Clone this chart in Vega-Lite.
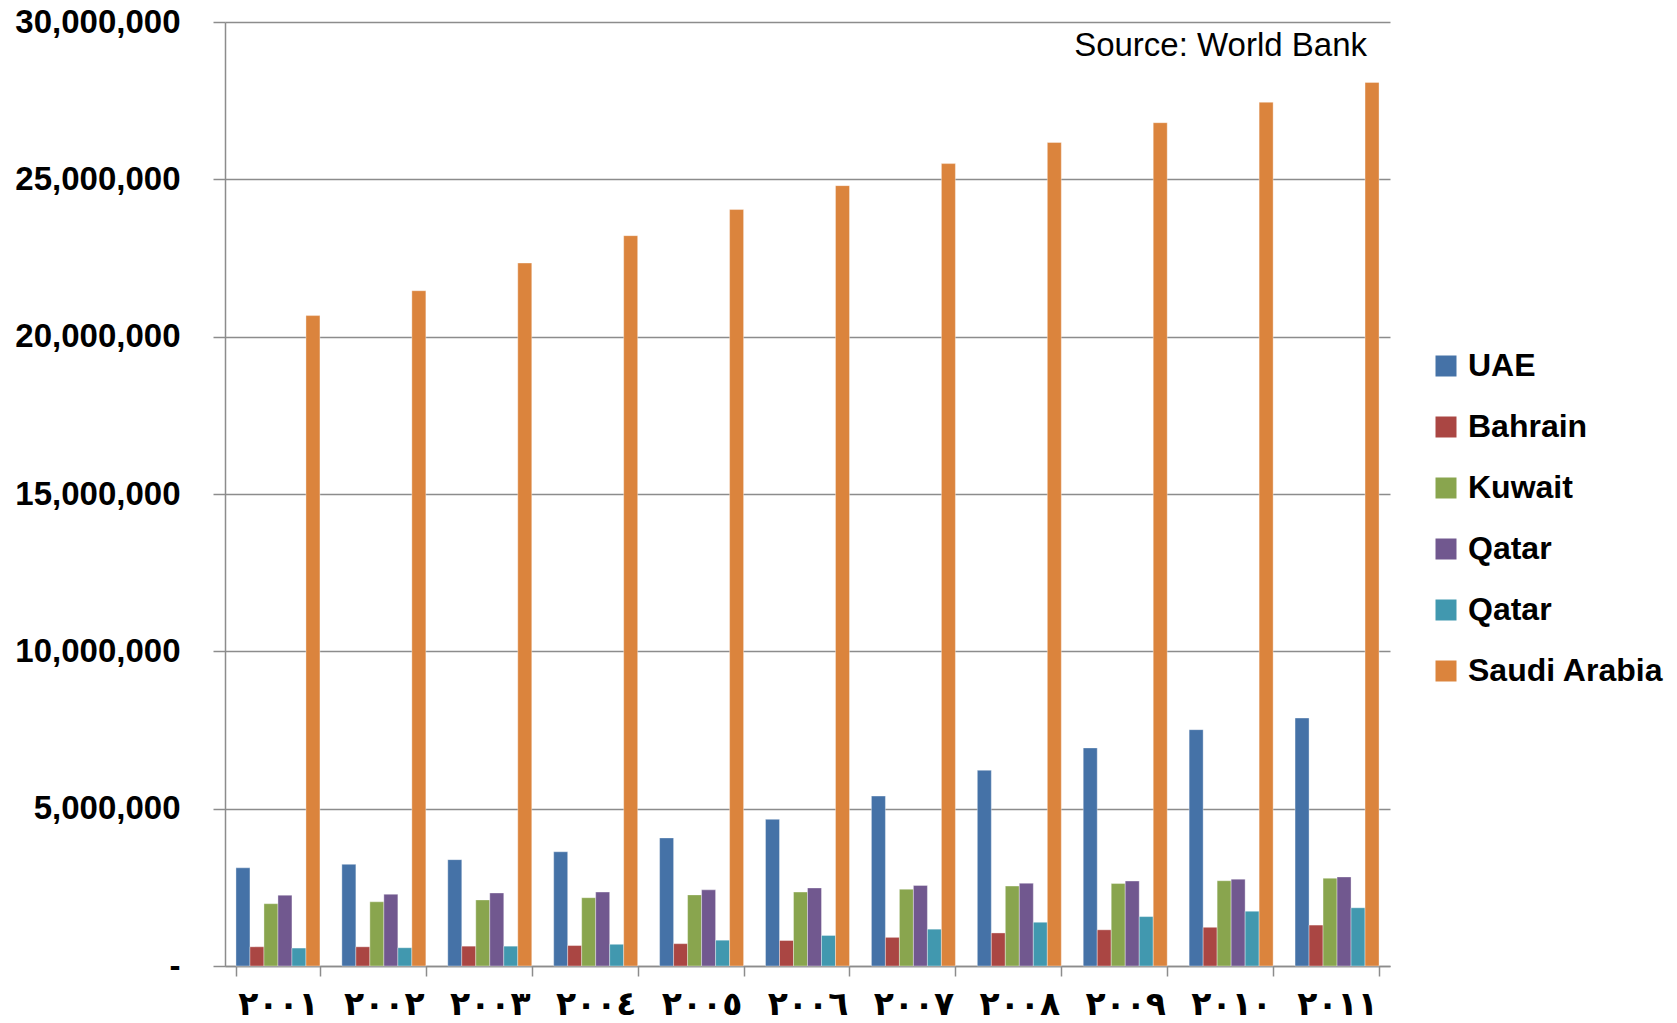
{
  "$schema": "https://vega.github.io/schema/vega-lite/v6.json",
  "autosize": {"type": "none"},
  "padding": {"left": 225, "top": 22, "right": 287, "bottom": 57},
  "width": 1165,
  "height": 944,
  "background": "#ffffff",
  "title": {
    "text": "Source: World Bank",
    "anchor": "end",
    "frame": "group",
    "orient": "top",
    "baseline": "alphabetic",
    "offset": -83,
    "dx": -23,
    "font": "Liberation Sans",
    "fontSize": 33,
    "fontWeight": "normal",
    "color": "#000000"
  },
  "data": {
    "values": [
      {"year": "٢٠٠١", "series": "UAE", "value": 3120000},
      {"year": "٢٠٠١", "series": "Bahrain", "value": 610000},
      {"year": "٢٠٠١", "series": "Kuwait", "value": 1980000},
      {"year": "٢٠٠١", "series": "Qatar", "value": 2250000},
      {"year": "٢٠٠١", "series": "Qatar2", "value": 570000},
      {"year": "٢٠٠١", "series": "Saudi Arabia", "value": 20670000},
      {"year": "٢٠٠٢", "series": "UAE", "value": 3230000},
      {"year": "٢٠٠٢", "series": "Bahrain", "value": 610000},
      {"year": "٢٠٠٢", "series": "Kuwait", "value": 2040000},
      {"year": "٢٠٠٢", "series": "Qatar", "value": 2280000},
      {"year": "٢٠٠٢", "series": "Qatar2", "value": 580000},
      {"year": "٢٠٠٢", "series": "Saudi Arabia", "value": 21460000},
      {"year": "٢٠٠٣", "series": "UAE", "value": 3380000},
      {"year": "٢٠٠٣", "series": "Bahrain", "value": 630000},
      {"year": "٢٠٠٣", "series": "Kuwait", "value": 2100000},
      {"year": "٢٠٠٣", "series": "Qatar", "value": 2320000},
      {"year": "٢٠٠٣", "series": "Qatar2", "value": 630000},
      {"year": "٢٠٠٣", "series": "Saudi Arabia", "value": 22340000},
      {"year": "٢٠٠٤", "series": "UAE", "value": 3630000},
      {"year": "٢٠٠٤", "series": "Bahrain", "value": 650000},
      {"year": "٢٠٠٤", "series": "Kuwait", "value": 2170000},
      {"year": "٢٠٠٤", "series": "Qatar", "value": 2350000},
      {"year": "٢٠٠٤", "series": "Qatar2", "value": 690000},
      {"year": "٢٠٠٤", "series": "Saudi Arabia", "value": 23210000},
      {"year": "٢٠٠٥", "series": "UAE", "value": 4070000},
      {"year": "٢٠٠٥", "series": "Bahrain", "value": 710000},
      {"year": "٢٠٠٥", "series": "Kuwait", "value": 2260000},
      {"year": "٢٠٠٥", "series": "Qatar", "value": 2420000},
      {"year": "٢٠٠٥", "series": "Qatar2", "value": 820000},
      {"year": "٢٠٠٥", "series": "Saudi Arabia", "value": 24040000},
      {"year": "٢٠٠٦", "series": "UAE", "value": 4660000},
      {"year": "٢٠٠٦", "series": "Bahrain", "value": 810000},
      {"year": "٢٠٠٦", "series": "Kuwait", "value": 2350000},
      {"year": "٢٠٠٦", "series": "Qatar", "value": 2480000},
      {"year": "٢٠٠٦", "series": "Qatar2", "value": 970000},
      {"year": "٢٠٠٦", "series": "Saudi Arabia", "value": 24800000},
      {"year": "٢٠٠٧", "series": "UAE", "value": 5400000},
      {"year": "٢٠٠٧", "series": "Bahrain", "value": 910000},
      {"year": "٢٠٠٧", "series": "Kuwait", "value": 2440000},
      {"year": "٢٠٠٧", "series": "Qatar", "value": 2560000},
      {"year": "٢٠٠٧", "series": "Qatar2", "value": 1170000},
      {"year": "٢٠٠٧", "series": "Saudi Arabia", "value": 25500000},
      {"year": "٢٠٠٨", "series": "UAE", "value": 6220000},
      {"year": "٢٠٠٨", "series": "Bahrain", "value": 1050000},
      {"year": "٢٠٠٨", "series": "Kuwait", "value": 2540000},
      {"year": "٢٠٠٨", "series": "Qatar", "value": 2630000},
      {"year": "٢٠٠٨", "series": "Qatar2", "value": 1390000},
      {"year": "٢٠٠٨", "series": "Saudi Arabia", "value": 26170000},
      {"year": "٢٠٠٩", "series": "UAE", "value": 6930000},
      {"year": "٢٠٠٩", "series": "Bahrain", "value": 1150000},
      {"year": "٢٠٠٩", "series": "Kuwait", "value": 2620000},
      {"year": "٢٠٠٩", "series": "Qatar", "value": 2700000},
      {"year": "٢٠٠٩", "series": "Qatar2", "value": 1570000},
      {"year": "٢٠٠٩", "series": "Saudi Arabia", "value": 26800000},
      {"year": "٢٠١٠", "series": "UAE", "value": 7510000},
      {"year": "٢٠١٠", "series": "Bahrain", "value": 1230000},
      {"year": "٢٠١٠", "series": "Kuwait", "value": 2710000},
      {"year": "٢٠١٠", "series": "Qatar", "value": 2760000},
      {"year": "٢٠١٠", "series": "Qatar2", "value": 1740000},
      {"year": "٢٠١٠", "series": "Saudi Arabia", "value": 27450000},
      {"year": "٢٠١١", "series": "UAE", "value": 7880000},
      {"year": "٢٠١١", "series": "Bahrain", "value": 1300000},
      {"year": "٢٠١١", "series": "Kuwait", "value": 2790000},
      {"year": "٢٠١١", "series": "Qatar", "value": 2830000},
      {"year": "٢٠١١", "series": "Qatar2", "value": 1850000},
      {"year": "٢٠١١", "series": "Saudi Arabia", "value": 28080000}
    ]
  },
  "mark": {"type": "bar", "stroke": "#ffffff", "strokeWidth": 0.6, "strokeOpacity": 0.6},
  "encoding": {
    "x": {
      "field": "year",
      "type": "nominal",
      "sort": null,
      "scale": {"paddingInner": 0.207, "paddingOuter": 0.1035},
      "axis": {
        "title": null,
        "labelAngle": 0,
        "labelExpr": "datum.value ? datum.value : ''",
        "labelAlign": "center",
        "labelFont": "DejaVu Sans",
        "labelFontSize": 33,
        "labelFontWeight": "bold",
        "labelColor": "#000000",
        "labelPadding": 12,
        "labelBaseline": "top",
        "labelOverlap": false,
        "tickBand": "extent",
        "tickSize": 10,
        "tickColor": "#8c8c8c",
        "tickWidth": 1.5,
        "domainColor": "#8c8c8c",
        "domainWidth": 1.5,
        "grid": false
      }
    },
    "xOffset": {
      "field": "series",
      "type": "nominal",
      "sort": ["UAE", "Bahrain", "Kuwait", "Qatar", "Qatar2", "Saudi Arabia"],
      "scale": {"paddingInner": 0, "paddingOuter": 0}
    },
    "y": {
      "field": "value",
      "type": "quantitative",
      "scale": {"domain": [0, 30000000], "nice": false},
      "axis": {
        "title": null,
        "values": [0, 5000000, 10000000, 15000000, 20000000, 25000000, 30000000],
        "labelExpr": "datum.value == 0 ? '-' : format(datum.value, ',')",
        "labelFont": "Liberation Sans",
        "labelFontSize": 33,
        "labelFontWeight": "bold",
        "labelColor": "#000000",
        "labelPadding": 33,
        "tickSize": 12,
        "tickColor": "#8c8c8c",
        "tickWidth": 1.5,
        "domainColor": "#8c8c8c",
        "domainWidth": 1.5,
        "grid": true,
        "gridColor": "#8c8c8c",
        "gridWidth": 1.5
      }
    },
    "color": {
      "field": "series",
      "type": "nominal",
      "sort": ["UAE", "Bahrain", "Kuwait", "Qatar", "Qatar2", "Saudi Arabia"],
      "scale": {
        "domain": ["UAE", "Bahrain", "Kuwait", "Qatar", "Qatar2", "Saudi Arabia"],
        "range": ["#4572A7", "#AA4643", "#89A54E", "#71588F", "#4198AF", "#DB843D"]
      },
      "legend": {
        "title": null,
        "orient": "none",
        "legendX": 1205,
        "legendY": 328,
        "symbolType": "square",
        "symbolSize": 441,
        "symbolStrokeWidth": 0,
        "labelFont": "Liberation Sans",
        "labelFontSize": 32,
        "labelFontWeight": "bold",
        "labelColor": "#000000",
        "labelOffset": 6,
        "rowPadding": 29,
        "labelLimit": 400,
        "labelExpr": "datum.label == 'Qatar2' ? 'Qatar' : datum.label"
      }
    }
  },
  "config": {
    "view": {"stroke": null}
  }
}
